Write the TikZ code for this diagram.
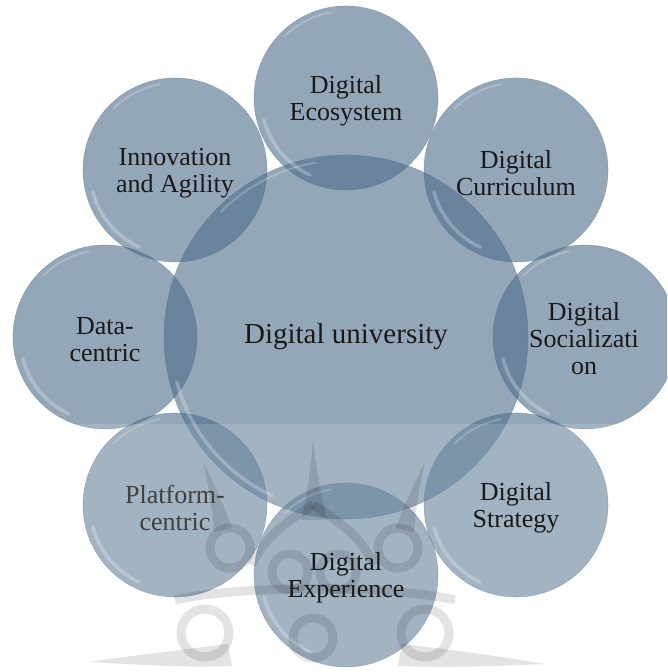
\documentclass[tikz,border=0pt]{standalone}
\usepackage{fontspec}
\setmainfont{Liberation Serif}
\usetikzlibrary{calc}
\definecolor{bub}{HTML}{4D6D8B}
\definecolor{rim}{HTML}{4F6880}
\pgfdeclarelayer{wmlayer}
\pgfdeclarelayer{txtlayer}
\pgfsetlayers{main,wmlayer,txtlayer}
\tikzset{
  bubble/.style={circle, fill=bub, fill opacity=0.6, draw=rim, draw opacity=0.4, line width=0.6pt, inner sep=0pt},
  sat/.style={bubble, minimum size=184pt},
  hub/.style={bubble, minimum size=364pt},
  lbl/.style={align=center, text=black!90, font=\fontsize{26}{27}\selectfont, inner sep=0pt},
  hublbl/.style={align=center, text=black!90, font=\fontsize{29}{32}\selectfont, inner sep=0pt},
  shine/.style={white, line width=3.5pt, opacity=0.25, line cap=round},
  shinetop/.style={white, line width=2pt, opacity=0.2, line cap=round},
  wm/.style={black, opacity=0.11, line width=9pt},
  wmfill/.style={black, fill opacity=0.11, draw=none},
}
\begin{document}
\begin{tikzpicture}[x=1pt,y=1pt]
\useasboundingbox (0,0) rectangle (667,672);
\begin{scope}
\clip (0,0) rectangle (667,672);
% bubbles
\node[hub] (hub) at (346,335) {};
\node[sat] (eco)  at (346,574) {};
\node[sat] (cur)  at (516,502) {};
\node[sat] (soc)  at (585,335) {};
\node[sat] (str)  at (516,167) {};
\node[sat] (exp)  at (346,97)  {};
\node[sat] (plat) at (175,167) {};
\node[sat] (data) at (105,335) {};
\node[sat] (inno) at (175,502) {};
% highlights
\foreach \n/\r in {eco/92,cur/92,soc/92,str/92,exp/92,plat/92,data/92,inno/92,hub/182}{
  \draw[shine] ($(\n.center)+(195:\r pt-7pt)$) arc[start angle=195, end angle=245, radius=\r pt-7pt];
  \draw[shinetop] ($(\n.center)+(100:\r pt-5pt)$) arc[start angle=100, end angle=135, radius=\r pt-5pt];
}
% lighter lower band
\fill[white, opacity=0.13] (0,0) rectangle (667,248);
% watermark ornament
\begin{pgfonlayer}{wmlayer}
\begin{scope}[shift={(0,672)}, yscale=-1]
  \fill[wmfill] (301,520) .. controls (308,490) and (311,465) .. (313,440)
        .. controls (316,465) and (320,490) .. (327,520) -- cycle;
  \fill[wmfill] (203,462) .. controls (212,480) and (222,500) .. (232,528)
        -- (214,532) .. controls (212,505) and (208,485) .. (203,462);
  \fill[wmfill] (425,462) .. controls (416,480) and (406,500) .. (396,528)
        -- (414,532) .. controls (416,505) and (420,485) .. (425,462);
  \draw[wm] (313,505) .. controls (290,520) and (265,535) .. (252,565);
  \draw[wm] (313,505) .. controls (336,520) and (361,535) .. (374,565);
  \draw[wm] (230,548) circle[radius=20];
  \draw[wm] (290,572) circle[radius=18];
  \draw[wm] (338,572) circle[radius=18];
  \draw[wm] (398,548) circle[radius=20];
  \draw[wm] (205,633) circle[radius=24];
  \draw[wm] (425,633) circle[radius=24];
  \draw[wm] (313,638) circle[radius=20];
  \draw[wm] (175,600) .. controls (240,585) and (390,585) .. (455,600);
  \fill[wmfill] (228,644) .. controls (180,650) and (130,656) .. (88,662)
        .. controls (130,664) and (180,668) .. (232,666) -- cycle;
  \fill[wmfill] (402,644) .. controls (450,650) and (500,656) .. (545,664)
        .. controls (500,666) and (450,668) .. (398,666) -- cycle;
\end{scope}
\end{pgfonlayer}
\end{scope}
% labels
\begin{pgfonlayer}{txtlayer}
\node[hublbl] (hubT)  at (hub)  {Digital university};
\node[lbl]    (ecoT)  at ($(eco)+(0,-3)$)  {Digital\\Ecosystem};
\node[lbl]    (curT)  at ($(cur)+(0,-3)$)  {Digital\\Curriculum};
\node[lbl]    (socT)  at ($(soc)+(-1,-2)$) {Digital\\Socializati\\on};
\node[lbl]    (strT)  at ($(str)+(0,-3)$)  {Digital\\Strategy};
\node[lbl]    (expT)  at ($(exp)+(0,-3)$)  {Digital\\Experience};
\node[lbl, text=black!75] (platT) at ($(plat)+(0,-3)$) {Platform-\\centric};
\node[lbl]    (dataT) at ($(data)+(0,-3)$) {Data-\\centric};
\node[lbl]    (innoT) at ($(inno)+(0,-3)$) {Innovation\\and Agility};
\end{pgfonlayer}
\end{tikzpicture}
\end{document}
